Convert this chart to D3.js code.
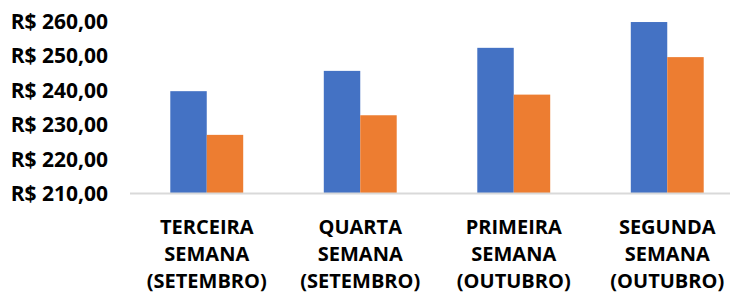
<!DOCTYPE html>
<html>
<head>
<meta charset="utf-8">
<script src="https://d3js.org/d3.v7.min.js"></script>
<style>
  body { margin: 0; background: #fff; }
  text { font-family: "Open Sans", sans-serif; font-weight: bold; fill: #000; }
</style>
</head>
<body>
<svg width="730" height="293"></svg>
<script>
// categories; label lines split on "|"
var categories = [
  "TERCEIRA|SEMANA|(SETEMBRO)",
  "QUARTA|SEMANA|(SETEMBRO)",
  "PRIMEIRA|SEMANA|(OUTUBRO)",
  "SEGUNDA|SEMANA|(OUTUBRO)"
];
var series1 = [239.6, 245.5, 252.2, 259.7];
var series2 = [226.9, 232.6, 238.6, 249.5];
var yTicks = [210, 220, 230, 240, 250, 260];

var svg = d3.select("svg");
var w = 730, h = 293;

var x = d3.scaleBand()
    .domain(categories)
    .range([130, 744])
    .paddingInner(0.525)
    .paddingOuter(0.2625);

var xs = d3.scaleBand()
    .domain([0, 1])
    .range([0, x.bandwidth()]);

var y = d3.scaleLinear()
    .domain([210, 260])
    .range([193, 21]);

var fmt = function(d) { return "R$ " + d.toFixed(2).replace(".", ","); };

// y labels, no axis line
var yAxis = d3.axisLeft(y).tickValues(yTicks).tickFormat(fmt).tickSize(0).tickPadding(0);
var gy = svg.append("g").attr("transform", "translate(108,0)").call(yAxis);
gy.select(".domain").remove();
gy.selectAll("text").style("font-size", "21px").attr("fill", "#000").attr("dy", "0.36em");

var colors = ["#4472C4", "#ED7D31"];
var groups = svg.append("g").selectAll("g")
  .data(categories)
  .join("g")
    .attr("transform", function(d) { return "translate(" + x(d) + ",0)"; });

groups.selectAll("rect")
  .data(function(d, i) { return [series1[i], series2[i]]; })
  .join("rect")
    .attr("x", function(d, j) { return xs(j); })
    .attr("y", function(d) { return y(d); })
    .attr("width", xs.bandwidth())
    .attr("height", function(d) { return y(210) - y(d); })
    .attr("fill", function(d, j) { return colors[j]; });

// baseline
svg.append("line")
    .attr("x1", 130).attr("x2", w)
    .attr("y1", y(210) + 0.5).attr("y2", y(210) + 0.5)
    .attr("stroke", "#d9d9d9").attr("stroke-width", 2);

// category labels
var gx = svg.append("g");
categories.forEach(function(c) {
  var t = gx.append("text")
      .attr("text-anchor", "middle")
      .style("font-size", "20px");
  c.split("|").forEach(function(line, k) {
    t.append("tspan")
      .attr("x", x(c) + x.bandwidth() / 2)
      .attr("y", 233.5 + k * 27.3)
      .text(line);
  });
});
</script>
</body>
</html>
